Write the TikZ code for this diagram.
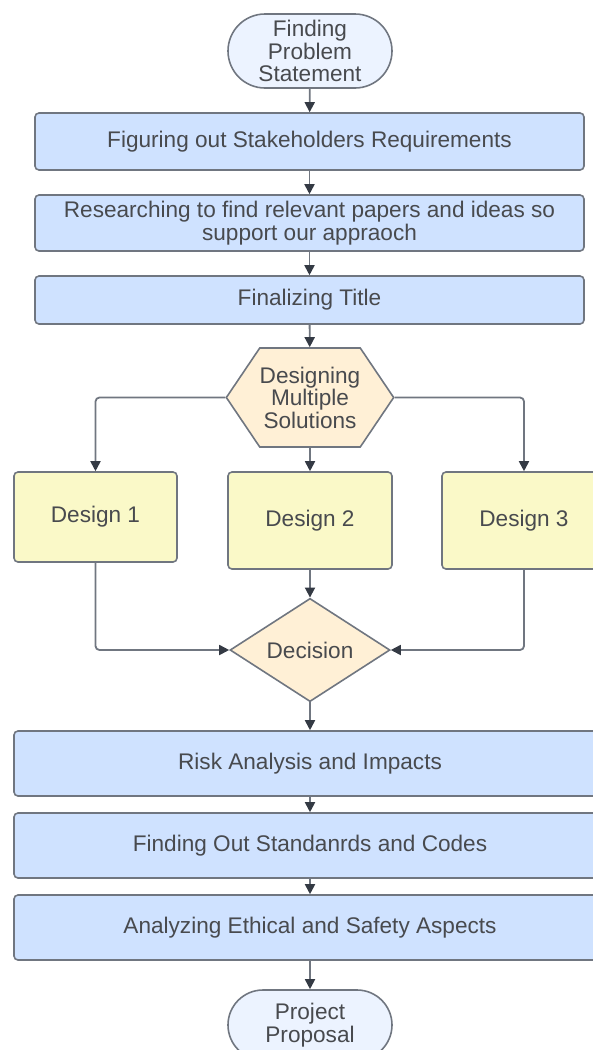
\documentclass[tikz,border=0pt]{standalone}
\usepackage{fontspec}
\setmainfont{Liberation Sans}
\usepackage{tikz}
\usetikzlibrary{arrows.meta, shapes.geometric, shapes.symbols, shapes.misc}
\definecolor{edge}{RGB}{112,118,128}
\definecolor{tip}{RGB}{52,58,68}
\definecolor{ink}{RGB}{72,74,78}
\definecolor{stepblue}{RGB}{207,226,255}
\definecolor{termblue}{RGB}{236,243,255}
\definecolor{designyellow}{RGB}{250,249,200}
\definecolor{peach}{RGB}{255,240,214}

\begin{document}
\begin{tikzpicture}[x=1pt, y=-1pt,
  >={Triangle[length=10pt, width=10pt, color=tip]},
  base/.style={draw=edge, line width=1.6pt, text=ink, align=center,
    font=\fontsize{22.6}{22.5}\selectfont, inner sep=0pt},
  term/.style={base, rounded rectangle, fill=termblue, minimum width=164pt, minimum height=74pt},
  stepbox/.style={base, rectangle, rounded corners=4pt, fill=stepblue, minimum height=57pt},
  design/.style={base, rectangle, rounded corners=4pt, fill=designyellow, minimum width=164pt},
  flow/.style={->, draw=edge, line width=1.8pt, rounded corners=4pt}]
  \clip (0,0) rectangle (593,1050);

  \node[term] (start) at (310,51) {Finding\\Problem\\Statement};
  \node[stepbox, minimum width=549pt] (req) at (309.5,141.5) {Figuring out Stakeholders Requirements};
  \node[stepbox, minimum width=549pt, minimum height=56pt] (research) at (309.5,223)
    {Researching to find relevant papers and ideas so\\support our appraoch};
  \node[stepbox, minimum width=549pt, minimum height=48pt] (title) at (309.5,300) {Finalizing Title};
  \node[base, signal, signal to=west and east, signal pointer angle=112, fill=peach,
    minimum width=96pt, minimum height=99pt] (multi) at (310,397.5) {Designing\\Multiple\\Solutions};

  \node[design, minimum width=163pt, minimum height=90pt] (d1) at (95.5,517) {Design 1};
  \node[design, minimum height=97pt] (d2) at (310,520.5) {Design 2};
  \node[design, minimum height=97pt] (d3) at (524,520.5) {Design 3};

  \node[base, diamond, fill=peach, minimum width=160pt, minimum height=94pt] (dec) at (310,650) {Decision};

  \node[stepbox, minimum width=592pt, minimum height=65pt] (risk) at (310,763.5) {Risk Analysis and Impacts};
  \node[stepbox, minimum width=592pt, minimum height=65pt] (std) at (310,845.5) {Finding Out Standanrds and Codes};
  \node[stepbox, minimum width=592pt, minimum height=65pt] (ethic) at (310,927.5) {Analyzing Ethical and Safety Aspects};
  \node[term, minimum height=70pt] (finish) at (310,1025) {Project\\Proposal};

  \draw[flow] (start) -- (req);
  \draw[flow] (req) -- (research);
  \draw[flow] (research) -- (title);
  \draw[flow] (title) -- (multi);
  \draw[flow] (multi.west) -| (d1.north);
  \draw[flow] (multi) -- (d2);
  \draw[flow] (multi.east) -| (d3.north);
  \draw[flow] (d1.south) |- (dec.west);
  \draw[flow] (d2) -- (dec);
  \draw[flow] (d3.south) |- (dec.east);
  \draw[flow] (dec) -- (risk);
  \draw[flow] (risk) -- (std);
  \draw[flow] (std) -- (ethic);
  \draw[flow] (ethic) -- (finish);
\end{tikzpicture}
\end{document}
